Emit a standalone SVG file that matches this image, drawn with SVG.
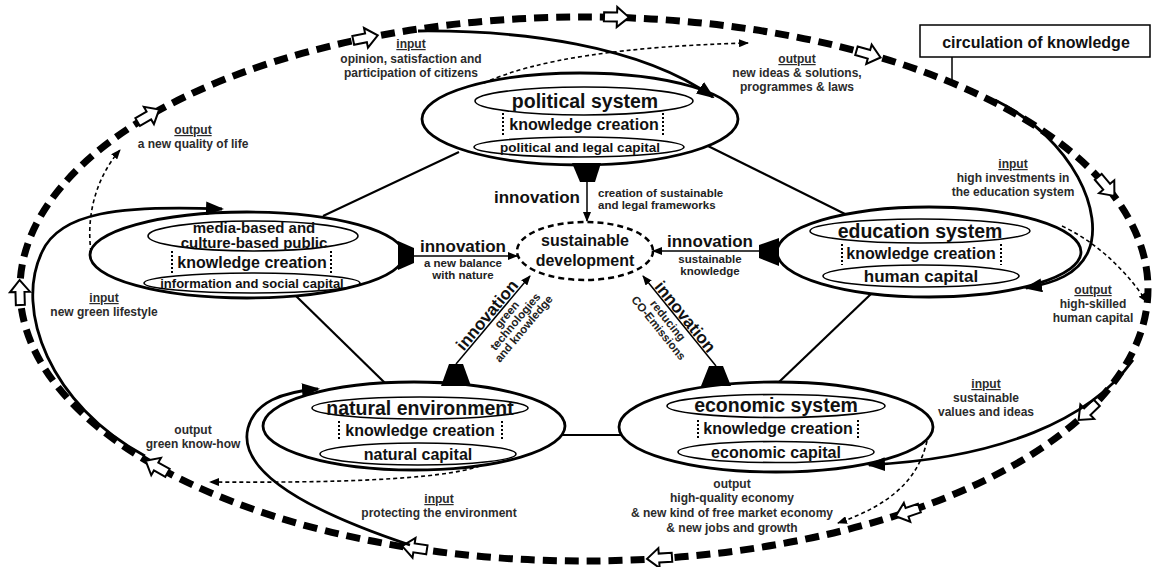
<svg xmlns="http://www.w3.org/2000/svg" width="1155" height="567" viewBox="0 0 1155 567">
<defs>
<style>
text{font-family:"Liberation Sans",Arial,sans-serif;fill:#111}
.lbl{font-size:12px;font-weight:bold;fill:#2b2b2b;text-anchor:middle}
.u{text-decoration:underline}
.sm{font-size:11.5px;font-weight:bold;fill:#222}
.inn{font-size:17px;font-weight:bold;text-anchor:middle}
.ttl{font-size:19.5px;font-weight:bold;text-anchor:middle}
.kc{font-size:16px;font-weight:bold;text-anchor:middle}
.cap{font-weight:bold;text-anchor:middle}
.sd{font-size:16px;font-weight:bold;text-anchor:middle}
.outer{fill:#fff;stroke:#000;stroke-width:2.8}
.inner{fill:none;stroke:#000;stroke-width:1.6}
.brk{fill:none;stroke:#000;stroke-width:2;stroke-dasharray:2 2}
.edge{fill:none;stroke:#000;stroke-width:2.2}
.flow{fill:none;stroke:#000;stroke-width:2.8;marker-end:url(#big)}
.out{fill:none;stroke:#000;stroke-width:1.6;stroke-dasharray:4 3;marker-end:url(#small)}
.inv{fill:none;stroke:#000;stroke-width:1.5;marker-end:url(#small)}
.trap{fill:#000}
.circ{fill:none;stroke:#000;stroke-width:7;stroke-dasharray:14 8}
.harrow{fill:#fff;stroke:#000;stroke-width:2}
</style>
<marker id="big" viewBox="0 0 18 14" refX="16" refY="7" markerWidth="18" markerHeight="14" markerUnits="userSpaceOnUse" orient="auto"><path d="M0,0 L18,7 L0,14 z" fill="#000"/></marker>
<marker id="small" viewBox="0 0 10 8" refX="9" refY="4" markerWidth="10" markerHeight="8" markerUnits="userSpaceOnUse" orient="auto"><path d="M0,0 L10,4 L0,8 z" fill="#000"/></marker>
<polygon id="ha" points="-12,-4.5 1,-4.5 1,-10 13,0 1,10 1,4.5 -12,4.5"/>
</defs>
<rect width="1155" height="567" fill="#fff"/>

<g id="circulation">
<ellipse class="circ" cx="584" cy="289" rx="564" ry="272"/>
<use href="#ha" class="harrow" transform="translate(148,116) rotate(-30.4)"/>
<use href="#ha" class="harrow" transform="translate(365,38) rotate(-11.5)"/>
<use href="#ha" class="harrow" transform="translate(616,17) rotate(1.6)"/>
<use href="#ha" class="harrow" transform="translate(868,54) rotate(15.7)"/>
<use href="#ha" class="harrow" transform="translate(1106,186) rotate(49.7)"/>
<use href="#ha" class="harrow" transform="translate(1088,411) rotate(136.2)"/>
<use href="#ha" class="harrow" transform="translate(908,512) rotate(161.3)"/>
<use href="#ha" class="harrow" transform="translate(660,558) rotate(176.2)"/>
<use href="#ha" class="harrow" transform="translate(415,548) rotate(-171.4)"/>
<use href="#ha" class="harrow" transform="translate(157,467) rotate(-150.8)"/>
<use href="#ha" class="harrow" transform="translate(20,293) rotate(-91.7)"/>
</g>

<g id="circulation-label">
<line x1="952" y1="57" x2="952" y2="82" stroke="#000" stroke-width="1.5"/>
<rect x="920" y="25" width="230" height="32" fill="#fff" stroke="#000" stroke-width="1.5"/>
<text x="1036" y="48" font-size="16" font-weight="bold" text-anchor="middle">circulation of knowledge</text>
</g>

<g id="sustainable-development">
<ellipse cx="585" cy="251" rx="68" ry="29" fill="#fff" stroke="#000" stroke-width="2.5" stroke-dasharray="6 4"/>
<text class="sd" x="585" y="246">sustainable</text>
<text class="sd" x="585" y="266">development</text>
</g>

<g id="political-system">
<ellipse class="outer" cx="580" cy="119" rx="158" ry="46"/>
<ellipse class="inner" cx="584" cy="101" rx="109" ry="14"/>
<text class="ttl" x="585" y="108">political system</text>
<path class="brk" d="M503,113 V135 M663,113 V135"/>
<text class="kc" x="584" y="130">knowledge creation</text>
<ellipse class="inner" cx="579" cy="147" rx="105" ry="10"/>
<text class="cap" font-size="13.5" x="580" y="152">political and legal capital</text>
</g>

<g id="media-public">
<ellipse class="outer" cx="247" cy="255" rx="157" ry="43"/>
<ellipse class="inner" cx="253" cy="236" rx="105" ry="15"/>
<text class="cap" font-size="15" x="254" y="233">media-based and</text>
<text class="cap" font-size="15" x="254" y="248">culture-based public</text>
<path class="brk" d="M172,251 V275 M331,251 V275"/>
<text class="kc" x="252" y="268">knowledge creation</text>
<ellipse class="inner" cx="252" cy="283" rx="108" ry="10"/>
<text class="cap" font-size="13" x="252" y="288">information and social capital</text>
</g>

<g id="education-system">
<ellipse class="outer" cx="929" cy="252" rx="152" ry="45"/>
<ellipse class="inner" cx="920" cy="231" rx="110" ry="12"/>
<text class="ttl" x="920" y="238">education system</text>
<path class="brk" d="M842,244 V265 M1001,244 V265"/>
<text class="kc" x="921" y="259">knowledge creation</text>
<ellipse class="inner" cx="921" cy="276" rx="98" ry="11"/>
<text class="cap" font-size="17" x="921" y="282">human capital</text>
</g>

<g id="natural-environment">
<ellipse class="outer" cx="414" cy="426" rx="151" ry="44"/>
<ellipse class="inner" cx="420" cy="408" rx="108" ry="11"/>
<text class="ttl" x="420" y="415">natural environment</text>
<path class="brk" d="M339,421 V441 M502,421 V441"/>
<text class="kc" x="420" y="436">knowledge creation</text>
<ellipse class="inner" cx="418" cy="454" rx="98" ry="11"/>
<text class="cap" font-size="16" x="418" y="460">natural capital</text>
</g>

<g id="economic-system">
<ellipse class="outer" cx="776" cy="427" rx="157" ry="45"/>
<ellipse class="inner" cx="776" cy="406" rx="109" ry="11.5"/>
<text class="ttl" x="776" y="412">economic system</text>
<path class="brk" d="M698,420 V440 M858,420 V440"/>
<text class="kc" x="778" y="434">knowledge creation</text>
<ellipse class="inner" cx="776" cy="452" rx="98" ry="10.5"/>
<text class="cap" font-size="16" x="776" y="458">economic capital</text>
</g>

<g id="connectors">
<!-- hexagon edges -->
<line class="edge" x1="459" y1="152" x2="323" y2="216"/>
<line class="edge" x1="708" y1="146" x2="845" y2="214"/>
<line class="edge" x1="296" y1="296" x2="385" y2="383"/>
<line class="edge" x1="871" y1="294" x2="779" y2="382"/>
<line class="edge" x1="562" y1="435" x2="621" y2="435"/>

<!-- innovation arrows -->
<polygon class="trap" points="572,163 601,163 595,182 580,182"/>
<line class="inv" x1="587" y1="182" x2="587" y2="221"/>
<polygon class="trap" points="398,241 414,248 414,263 398,270"/>
<line class="inv" x1="414" y1="256" x2="517" y2="256"/>
<polygon class="trap" points="759,245 779,238 779,266 759,258"/>
<line class="inv" x1="759" y1="251" x2="653" y2="251"/>
<polygon class="trap" points="449,364 463,364 471,386 441,386"/>
<line class="inv" x1="456" y1="364" x2="530" y2="276"/>
<polygon class="trap" points="709,366 723,366 731,386 701,386"/>
<line class="inv" x1="716" y1="366" x2="643" y2="276"/>

<!-- input flows -->
<path class="flow" d="M418,31 C520,30 640,45 713,97"/>
<path class="flow" d="M995,100 C1075,140 1105,215 1088,252 C1078,274 1055,283 1026,288"/>
<path class="flow" d="M145,456 C50,405 14,310 42,252 C60,212 120,205 222,209"/>
<path class="flow" d="M410,545 C320,515 236,475 248,428 C255,402 282,392 318,389"/>
<path class="flow" d="M1133,360 C1090,420 1000,458 869,465"/>

<!-- output flows -->
<path class="out" d="M484,83 Q560,48 748,43"/>
<path class="out" d="M91,252 C86,215 96,178 120,150"/>
<path class="out" d="M1062,226 Q1112,250 1147,302"/>
<path class="out" d="M480,466 C440,480 330,483 210,482"/>
<path class="out" d="M927,441 C918,480 890,505 838,523"/>

<!-- innovation labels -->
<text class="inn" x="537" y="203">innovation</text>
<text class="sm" x="598" y="197">creation of sustainable</text>
<text class="sm" x="598" y="209">and legal frameworks</text>
<text class="inn" x="463" y="252">innovation</text>
<text class="sm" x="463" y="267" text-anchor="middle">a new balance</text>
<text class="sm" x="463" y="279" text-anchor="middle">with nature</text>
<text class="inn" x="710" y="247">innovation</text>
<text class="sm" x="710" y="263" text-anchor="middle">sustainable</text>
<text class="sm" x="710" y="275" text-anchor="middle">knowledge</text>
<g transform="translate(493,320) rotate(-50)">
<text class="inn" x="0" y="-2">innovation</text>
<text class="sm" x="13" y="11" text-anchor="middle" font-size="10.5">green</text>
<text class="sm" x="13" y="22" text-anchor="middle" font-size="10.5">technologies</text>
<text class="sm" x="13" y="33" text-anchor="middle" font-size="10.5">and knowledge</text>
</g>
<g transform="translate(680,321) rotate(51)">
<text class="inn" x="0" y="-1">innovation</text>
<text class="sm" x="-8" y="13" text-anchor="middle">reducing</text>
<text class="sm" x="-8" y="25" text-anchor="middle">CO-Emissions</text>
</g>

<!-- input / output labels -->
<text class="lbl u" x="411" y="48">input</text>
<text class="lbl" x="411" y="63">opinion, satisfaction and</text>
<text class="lbl" x="411" y="77">participation of citizens</text>

<text class="lbl u" x="797" y="63">output</text>
<text class="lbl" x="797" y="77">new ideas &amp; solutions,</text>
<text class="lbl" x="797" y="91">programmes &amp; laws</text>

<text class="lbl u" x="193" y="134">output</text>
<text class="lbl" x="193" y="148">a new quality of life</text>

<text class="lbl u" x="1013" y="168">input</text>
<text class="lbl" x="1013" y="182">high investments in</text>
<text class="lbl" x="1013" y="196">the education system</text>

<text class="lbl u" x="1093" y="294">output</text>
<text class="lbl" x="1093" y="308">high-skilled</text>
<text class="lbl" x="1093" y="322">human capital</text>

<text class="lbl u" x="104" y="302">input</text>
<text class="lbl" x="104" y="316">new green lifestyle</text>

<text class="lbl" x="193" y="434">output</text>
<text class="lbl" x="193" y="448">green know-how</text>

<text class="lbl u" x="439" y="503">input</text>
<text class="lbl" x="439" y="517">protecting the environment</text>

<text class="lbl u" x="986" y="388">input</text>
<text class="lbl" x="986" y="402">sustainable</text>
<text class="lbl" x="986" y="416">values and ideas</text>

<text class="lbl" x="732" y="488">output</text>
<text class="lbl" x="732" y="502">high-quality economy</text>
<text class="lbl" x="732" y="517" font-size="12.5">&amp; new kind of free market economy</text>
<text class="lbl" x="732" y="532">&amp; new jobs and growth</text>
</g>
</svg>
